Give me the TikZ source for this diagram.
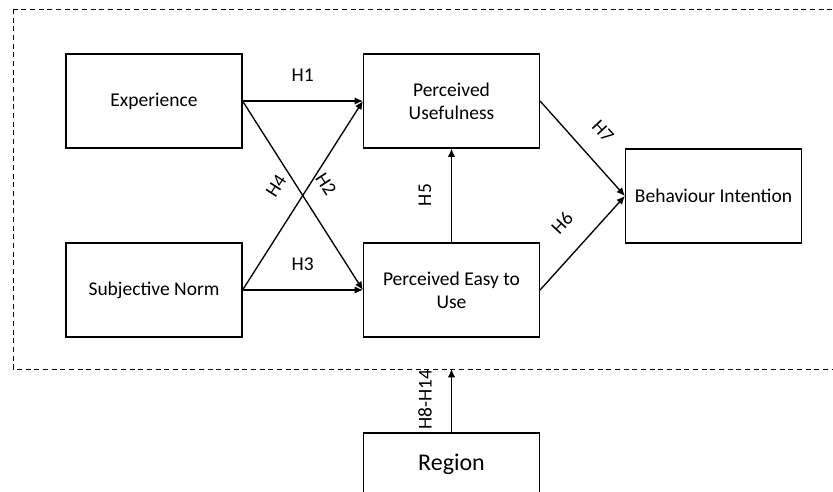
\documentclass[tikz,border=0pt]{standalone}
\usepackage{fontspec}
\setmainfont{Carlito}
\usetikzlibrary{arrows.meta}
\tikzset{
  box/.style={draw, line width=0.7pt, minimum width=105.6pt, minimum height=56.4pt,
    align=center, font=\fontsize{11.7}{14}\selectfont},
  hyp/.style={font=\fontsize{11.7}{14}\selectfont},
  link/.style={line width=0.8pt, -{Latex[length=5pt,width=4.5pt]}},
}
\begin{document}
\begin{tikzpicture}[x=0.6pt, y=-0.6pt]
\clip (0,0) rectangle (833,492);
% model frame
\draw[dash pattern=on 3pt off 2.2pt, line width=0.6pt] (13,9) rectangle (860,369);
\coordinate (frame) at (451.5,369);
% constructs
\node[box] (exp) at (154,101) {Experience};
\node[box] (sn)  at (154,290) {Subjective Norm};
\node[box] (pu)  at (451.5,101) {Perceived\\Usefulness};
\node[box] (peu) at (451.5,290) {Perceived Easy to\\Use};
\node[box] (bi)  at (713.5,196) {Behaviour Intention};
\node[box, minimum height=37.2pt, font=\fontsize{14.4}{17}\selectfont] (reg) at (451.5,464) {Region};
% hypotheses
\draw[link] (exp.east) -- (pu.west) node[hyp, midway, above=8pt] {H1};
\draw[link] (sn.east) -- (peu.west) node[hyp, midway, above=8pt] {H3};
\draw[link] (sn.east) -- (pu.west);
\draw[link] (exp.east) -- (peu.west);
\draw[link] (peu.north) -- (pu.south);
\draw[link] (pu.east) -- (bi.west);
\draw[link] (peu.east) -- (bi.west);
\draw[link] (reg.north) -- (frame);
\node[hyp, rotate=57]  (h4) at (276,186) {H4};
\node[hyp, rotate=-57] (h2) at (326,184) {H2};
\node[hyp, rotate=90]  (h5) at (425,195) {H5};
\node[hyp, rotate=-47] (h7) at (603,131) {H7};
\node[hyp, rotate=47]  (h6) at (562,223) {H6};
\node[hyp, rotate=90]  (h8) at (425,400) {H8-H14};
\end{tikzpicture}
\end{document}
